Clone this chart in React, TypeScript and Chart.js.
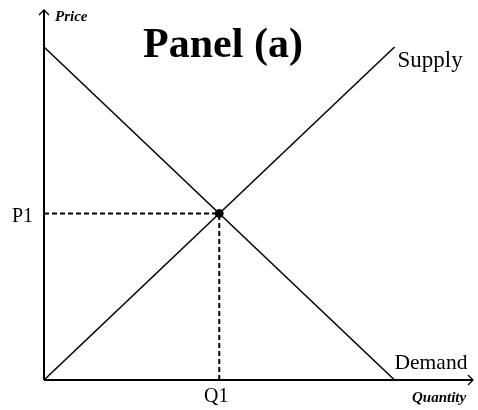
import React, { useEffect, useRef } from "react";
import { Chart, registerables } from "chart.js";

Chart.register(...registerables);

// Data (in abstract quantity / price units)
const demandPoints = [
  { x: 0, y: 10 },
  { x: 10, y: 0 },
];
const supplyPoints = [
  { x: 0, y: 0 },
  { x: 10, y: 10 },
];
const equilibrium = { x: 5, y: 5 };
const priceGuide = [
  { x: 0, y: 5 },
  { x: 5, y: 5 },
];
const quantityGuide = [
  { x: 5, y: 0 },
  { x: 5, y: 5 },
];
const titleText = "Panel (a)";
const xAxisLabel = "Quantity";
const yAxisLabel = "Price";
const priceTick = "P1";
const quantityTick = "Q1";
const supplyLabel = "Supply";
const demandLabel = "Demand";

const SERIF = '"Liberation Serif", "Times New Roman", serif';

const annotatePlugin = {
  id: "annotate",
  afterDatasetsDraw(chart: any) {
    const { ctx, chartArea, scales } = chart;
    const xs = scales.x;
    const ys = scales.y;
    const x0 = xs.getPixelForValue(0);
    const y0 = ys.getPixelForValue(0);
    const xEnd = chartArea.right;
    const yTop = chartArea.top;
    ctx.save();
    ctx.strokeStyle = "#000";
    ctx.fillStyle = "#000";
    ctx.lineWidth = 2;
    // axes
    ctx.beginPath();
    ctx.moveTo(x0, y0);
    ctx.lineTo(xEnd, y0);
    ctx.moveTo(x0, y0);
    ctx.lineTo(x0, yTop);
    ctx.stroke();
    // arrowheads
    ctx.lineWidth = 1.3;
    ctx.beginPath();
    ctx.moveTo(x0 - 5, yTop + 5);
    ctx.lineTo(x0, yTop);
    ctx.lineTo(x0 + 5, yTop + 5);
    ctx.moveTo(xEnd - 5, y0 - 5);
    ctx.lineTo(xEnd, y0);
    ctx.lineTo(xEnd - 5, y0 + 5);
    ctx.stroke();

    // axis titles
    ctx.font = `italic bold 15px ${SERIF}`;
    ctx.textAlign = "left";
    ctx.textBaseline = "alphabetic";
    ctx.fillText(yAxisLabel, x0 + 11, yTop + 11);
    ctx.fillText(xAxisLabel, xEnd - 61, y0 + 22);

    // tick labels
    ctx.font = `20px ${SERIF}`;
    ctx.textAlign = "right";
    ctx.fillText(priceTick, x0 - 11, ys.getPixelForValue(equilibrium.y) + 9);
    ctx.textAlign = "center";
    ctx.fillText(quantityTick, xs.getPixelForValue(equilibrium.x) - 3, y0 + 22);

    // curve labels
    ctx.textAlign = "left";
    ctx.font = `23px ${SERIF}`;
    const sEnd = supplyPoints[supplyPoints.length - 1];
    ctx.fillText(supplyLabel, xs.getPixelForValue(sEnd.x) + 3, ys.getPixelForValue(sEnd.y) + 20);
    ctx.font = `21.5px ${SERIF}`;
    const dEnd = demandPoints[demandPoints.length - 1];
    ctx.fillText(demandLabel, xs.getPixelForValue(dEnd.x), ys.getPixelForValue(dEnd.y) - 11);

    // title
    ctx.font = `bold 42px ${SERIF}`;
    ctx.textAlign = "center";
    ctx.fillText(titleText, 223, 57);
    ctx.restore();
  },
};

export default function App() {
  const ref = useRef<HTMLCanvasElement | null>(null);
  useEffect(() => {
    if (!ref.current) return;
    const chart = new Chart(ref.current, {
      type: "scatter",
      data: {
        datasets: [
          {
            label: "Price guide",
            data: priceGuide,
            showLine: true,
            borderColor: "#000",
            borderWidth: 2,
            borderDash: [5, 3],
            pointRadius: 0,
          },
          {
            label: "Quantity guide",
            data: quantityGuide,
            showLine: true,
            borderColor: "#000",
            borderWidth: 2,
            borderDash: [5, 3],
            pointRadius: 0,
          },
          {
            label: "Demand",
            data: demandPoints,
            showLine: true,
            borderColor: "#000",
            borderWidth: 1.5,
            pointRadius: 0,
          },
          {
            label: "Supply",
            data: supplyPoints,
            showLine: true,
            borderColor: "#000",
            borderWidth: 1.5,
            pointRadius: 0,
          },
          {
            label: "Equilibrium",
            data: [equilibrium],
            backgroundColor: "#000",
            borderColor: "#000",
            pointRadius: 4,
          },
        ],
      },
      options: {
        responsive: false,
        animation: false,
        layout: { padding: { left: 44, right: 2, top: 10, bottom: 30 } },
        scales: {
          x: { type: "linear", min: 0, max: 12.238, display: false },
          y: { type: "linear", min: 0, max: 11.11, display: false },
        },
        plugins: {
          legend: { display: false },
          tooltip: { enabled: false },
          title: { display: false },
        },
      },
      plugins: [annotatePlugin],
    });
    return () => chart.destroy();
  }, []);
  return (
    <div style={{ position: "absolute", left: 0, top: 0, width: 478, height: 410, background: "#fff" }}>
      <canvas ref={ref} width={478} height={410} style={{ display: "block" }} />
    </div>
  );
}
